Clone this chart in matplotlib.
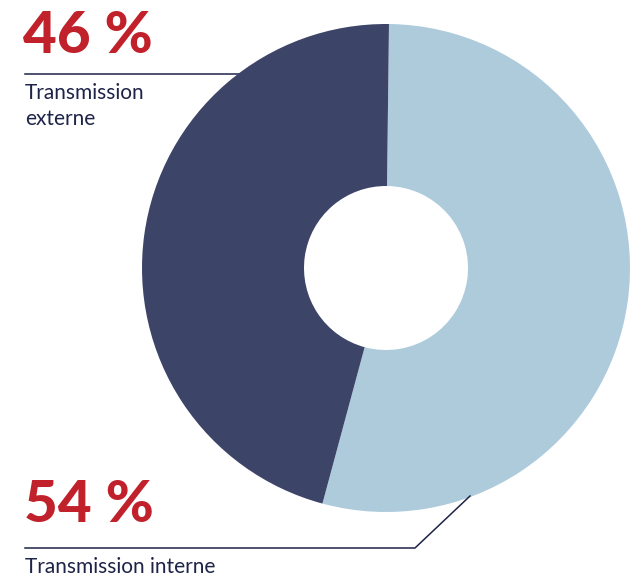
import numpy as np
import matplotlib.pyplot as plt

# Share of transmission type, in percent.
labels = ['Transmission interne', 'Transmission\nexterne']
shares = [54, 46]
colors = ['#aecbdc', '#3c4467']

RED = '#c0212b'
NAVY = '#1e2348'
W, H = 634, 578

fig = plt.figure(figsize=(W / 100, H / 100), dpi=100)
ax = fig.add_axes([0, 0, 1, 1])

# Donut, light slice first, running clockwise from the top.
ax.pie(shares, colors=colors, startangle=89.3, counterclock=False,
       center=(386, H - 268), radius=244,
       wedgeprops=dict(width=162, linewidth=0))

# Leader lines under the big numbers (drawn beneath the wedges).
ax.plot([25, 240], [H - 74, H - 74], color=NAVY, lw=1.1, zorder=0)
ax.plot([25, 415, 470], [H - 548, H - 548, H - 496], color=NAVY, lw=1.1,
        zorder=3)

# Big percentages and their captions.
big = dict(color=RED, fontsize=42, fontweight='black', family='Lato',
           va='baseline')
cap = dict(color=NAVY, fontsize=15, family='Lato', va='top',
           linespacing=1.35)
ax.text(23, H - 53, f'{shares[1]} %', **big)
ax.text(25, H - 83, labels[1], **cap)
ax.text(24, H - 522, f'{shares[0]} %', **big)
ax.text(25, H - 557, labels[0], **cap)

ax.set_xlim(0, W)
ax.set_ylim(0, H)
ax.set_aspect('equal')
ax.axis('off')

fig.savefig('out.png', dpi=100)
